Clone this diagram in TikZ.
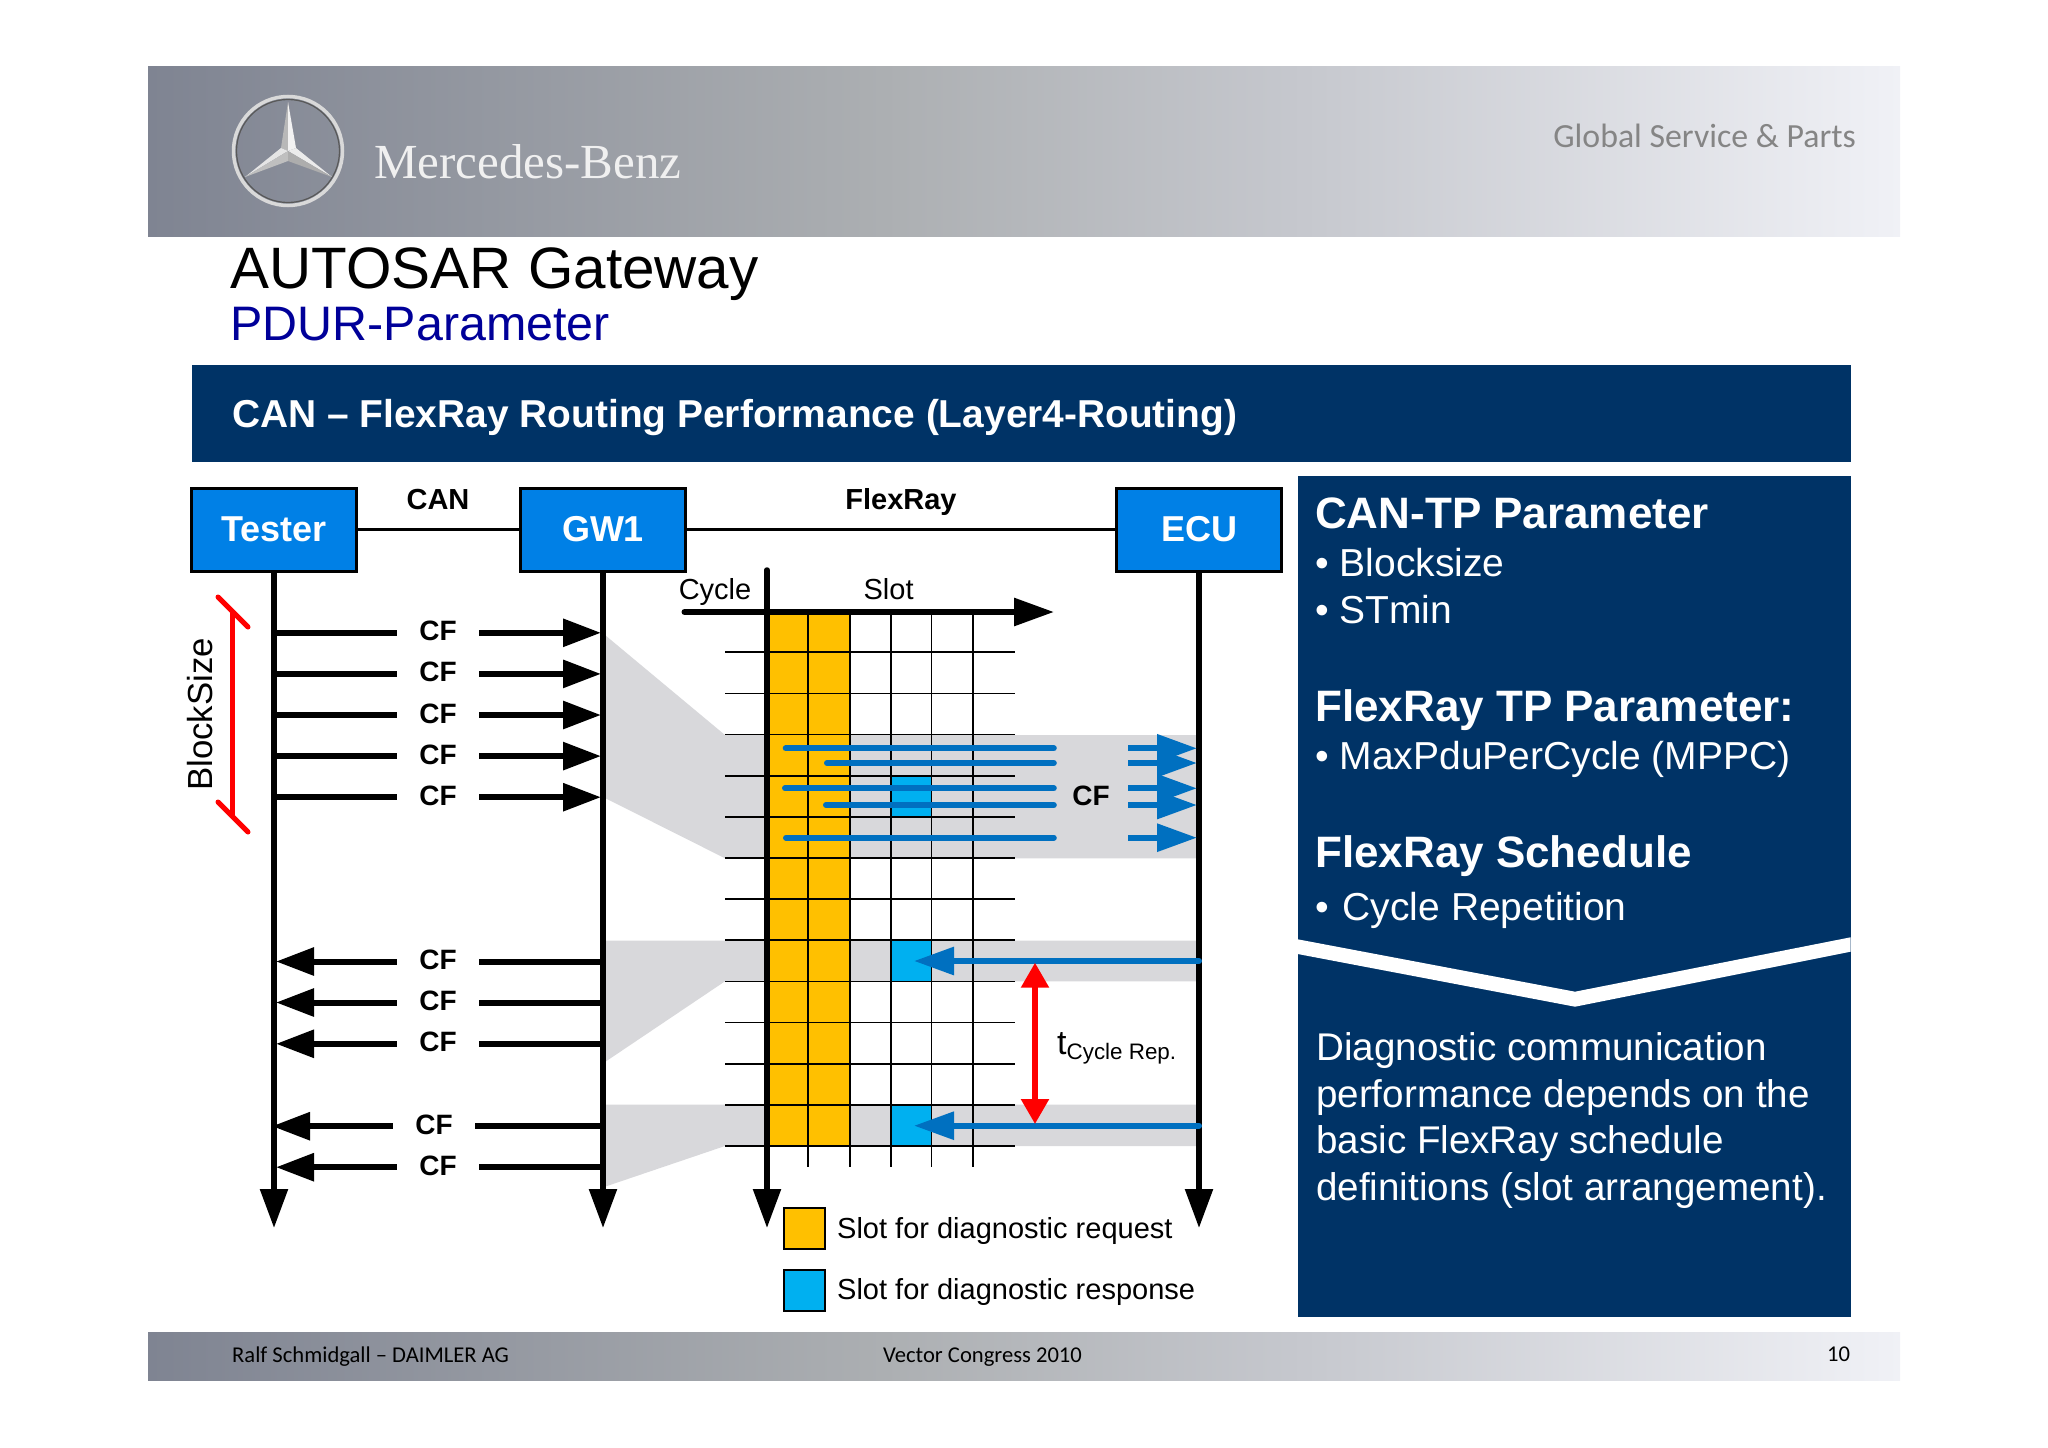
\documentclass[tikz,border=0pt]{standalone}
\usepackage{fontspec}
\setmainfont{Liberation Sans}
\newfontfamily\brandfont{Liberation Serif}
\newfontfamily\slimfont{Carlito}
\usetikzlibrary{arrows.meta}

\definecolor{bandleft}{RGB}{127,132,146}
\definecolor{bandmid}{RGB}{172,175,178}
\definecolor{bandlight}{RGB}{198,200,206}
\definecolor{bandright}{RGB}{240,241,246}
\definecolor{navy}{RGB}{0,51,102}
\definecolor{nodeblue}{RGB}{0,128,230}
\definecolor{slotgold}{RGB}{255,192,0}
\definecolor{slotcyan}{RGB}{0,176,240}
\definecolor{msgblue}{RGB}{0,112,192}
\definecolor{routegray}{RGB}{216,216,219}
\definecolor{titleblue}{RGB}{0,0,153}
\pgfdeclarehorizontalshading{bandshade}{100bp}{color(0bp)=(bandleft); color(25bp)=(bandleft); color(46bp)=(bandmid); color(58bp)=(bandlight); color(75bp)=(bandright); color(100bp)=(bandright)}

\newcommand{\pxfont}[1]{\fontsize{#1}{#1}\selectfont}

\tikzset{
	ecubox/.style={draw=black,fill=nodeblue,line width=3pt,minimum width=165pt,minimum height=83pt,inner sep=0pt,text=white,font=\pxfont{36}\bfseries},
	buslabel/.style={anchor=base,inner sep=0pt,font=\pxfont{29}\bfseries},
	cflabel/.style={minimum width=82pt,inner sep=0pt,text height=20pt,text depth=4pt,font=\pxfont{28}\bfseries},
	plain/.style={anchor=base west,inner sep=0pt},
	head/.style={anchor=base west,inner sep=0pt,text=white,font=\pxfont{44}\bfseries},
	item/.style={anchor=base west,inner sep=0pt,text=white,font=\pxfont{39}},
	lifeline/.style={line width=5.5pt,-{Triangle[length=39pt,width=27pt]}},
	msgline/.style={line width=6pt},
	msgtip/.style={-{Triangle[length=38pt,width=27pt]},shorten >=2pt},
	bluemsg/.style={line width=6pt,draw=msgblue},
	bluetip/.style={-{Triangle[length=40pt,width=27pt]}},
	gridline/.style={line width=1.8pt},
	redarrow/.style={line width=5.5pt,draw=red,{Triangle[length=25pt,width=27pt]}-{Triangle[length=25pt,width=27pt]}},
	legendbox/.style={draw=black,line width=2pt,minimum size=41pt,inner sep=0pt}
}

\begin{document}
\begin{tikzpicture}[x=1pt,y=-1pt]
	\useasboundingbox (0,0) rectangle (2048,1448);

	% header and footer bands
	\shade[shading=bandshade] (148,66) rectangle (1900,236);
	\shade[shading=bandshade] (148,1332) rectangle (1900,1380);

	% logo
	\draw[line width=3.5pt,draw=white!85!black] (288,151) circle (54.5);
	\draw[line width=1.2pt,draw=black!65] (288,151) circle (51.5);
	\fill[black!28] (288,102) -- (281,148) -- (288,151) -- cycle;
	\fill[white!95!black] (288,102) -- (296,148) -- (288,151) -- cycle;
	\fill[white!90!black] (245,177) -- (281,148) -- (288,151) -- cycle;
	\fill[black!25] (245,177) -- (288,161) -- (288,151) -- cycle;
	\fill[white!92!black] (332,177) -- (296,148) -- (288,151) -- cycle;
	\fill[black!32] (332,177) -- (288,161) -- (288,151) -- cycle;
	\node[plain,text=white!94!black,font=\brandfont\pxfont{49}] (brand) at (374,178) {Mercedes-Benz};
	\node[anchor=base east,inner sep=0pt,text=black!48,font=\slimfont\pxfont{33.8}] (division) at (1856,147) {Global Service \& Parts};

	% titles
	\node[plain,font=\pxfont{58.4}] (title) at (230.5,288) {AUTOSAR Gateway};
	\node[plain,text=titleblue,font=\pxfont{48.4}] (subtitle) at (230.5,340) {PDUR-Parameter};
	\fill[navy] (192,365) rectangle (1851,461.5);
	\node[plain,text=white,font=\pxfont{38.9}\bfseries] (banner) at (232,427.5) {CAN – FlexRay Routing Performance (Layer4-Routing)};

	% routed areas
	\fill[routegray] (605,635) -- (725,735) -- (1199,735) -- (1199,858.3) -- (725,858.3) -- (605,798) -- cycle;
	\fill[routegray] (605,940.7) -- (1199,940.7) -- (1199,981.3) -- (725,981.3) -- (605,1062) -- cycle;
	\fill[routegray] (605,1104.7) -- (1199,1104.7) -- (1199,1146) -- (725,1146) -- (605,1186.7) -- cycle;

	% schedule grid
	\fill[slotgold] (770,612) rectangle (849.6,1146);
	\fill[slotcyan] (890.7,776) rectangle (931.4,817);
	\fill[slotcyan] (890.7,940.7) rectangle (931.4,981.3);
	\fill[slotcyan] (890.7,1104.7) rectangle (931.4,1146);
	\foreach \y in {652.3,693.44,...,1147}
		\draw[gridline] (725.4,\y) -- (1014.6,\y);
	\foreach \x in {808,849.6,890.7,931.4,972.9}
		\draw[gridline] (\x,612) -- (\x,1166.7);

	% stations
	\node[ecubox] (tester) at (274,529.5) {Tester};
	\node[ecubox] (gw1) at (603,529.5) {GW1};
	\node[ecubox] (ecu) at (1199,529.5) {ECU};
	\draw[line width=3pt] (tester) -- (gw1);
	\draw[line width=3pt] (gw1) -- (ecu);
	\node[buslabel] (can) at (438,509.5) {CAN};
	\node[buslabel] (flexray) at (901,509.5) {FlexRay};
	\coordinate (lifeend) at (0,1228);
	\draw[lifeline] (tester.south) -- (tester |- lifeend);
	\draw[lifeline] (gw1.south) -- (gw1 |- lifeend);
	\draw[lifeline] (ecu.south) -- (ecu |- lifeend);

	% axes
	\coordinate (cycletop) at (767,570);
	\coordinate (slotstart) at (684.5,612);
	\coordinate (slotend) at (1054,612);
	\draw[lifeline,line cap=round] (cycletop) -- (cycletop |- lifeend);
	\draw[msgline,line cap=round,-{Triangle[length=40pt,width=27pt]}] (slotstart) -- (slotend);
	\node[anchor=base,inner sep=0pt,font=\pxfont{29}] (cycle) at (715,599) {Cycle};
	\node[anchor=base,inner sep=0pt,font=\pxfont{29}] (slot) at (888.6,599) {Slot};

	% frames on CAN
	\foreach \n/\y in {1/632.8,2/673.9,3/715,4/756.1,5/797.2}{
		\node[cflabel] (req\n) at (438,\y) {CF};
		\draw[msgline] (tester |- req\n) -- (req\n);
		\draw[msgline,msgtip] (req\n) -- (gw1 |- req\n);
	}
	\foreach \n/\x/\y/\s in {1/438/961.5/2,2/438/1002.5/2,3/438/1043.8/2,4/434/1126.2/-2,5/438/1167.2/2}{
		\node[cflabel] (res\n) at (\x,\y) {CF};
		\draw[msgline] (gw1 |- res\n) -- (res\n);
		\draw[msgline,msgtip,shorten >=\s pt] (res\n) -- (tester |- res\n);
	}

	% frames on FlexRay
	\node[cflabel,minimum width=74pt] (cfslot) at (1091,797) {CF};
	\foreach \n/\x/\y in {1/785.7/748.3,2/827/763,3/785/788.3,4/826/805,5/786/837.7}{
		\coordinate (start\n) at (\x,\y);
		\draw[bluemsg,line cap=round] (start\n) -- (cfslot.west |- start\n);
		\draw[bluemsg,bluetip,shorten >=2pt] (cfslot.east |- start\n) -- (ecu |- start\n);
	}
	\foreach \n/\y in {1/961,2/1125.7}{
		\coordinate (back\n) at (914,\y);
		\draw[bluemsg,line cap=round,bluetip] (ecu |- back\n) -- (back\n);
	}

	% repetition and block size
	\coordinate (reptop) at (1035,962.7);
	\coordinate (repbot) at (1035,1124);
	\draw[redarrow] (reptop) -- (repbot);
	\node[plain,font=\pxfont{34}] (trep) at (1057,1054) {t\raisebox{-5pt}{\pxfont{22.4}Cycle Rep.}};
	\node[rotate=90,inner sep=0pt,font=\pxfont{34.8}] (blocksize) at (200,714.5) {BlockSize};
	\coordinate (bstop) at (232.5,611);
	\coordinate (bsbot) at (232.5,817);
	\draw[line width=4.5pt,draw=red] (bstop) -- (bsbot);
	\draw[line width=5pt,draw=red,line cap=round] (218,597) -- (248,627);
	\draw[line width=5pt,draw=red,line cap=round] (218,802) -- (248,832);

	% legend
	\node[legendbox,fill=slotgold] (reqbox) at (804,1228) {};
	\node[legendbox,fill=slotcyan] (resbox) at (804,1290) {};
	\node[plain,font=\pxfont{29}] (reqtext) at (837,1238) {Slot for diagnostic request};
	\node[plain,font=\pxfont{29}] (restext) at (837,1299) {Slot for diagnostic response};

	% parameter panel
	\fill[navy] (1297.7,476) rectangle (1850.6,1316.7);
	\fill[white] (1297.7,939.3) -- (1575,991.7) -- (1850.6,937.3) -- (1850.6,951.7) -- (1575,1006.7) -- (1297.7,954) -- cycle;
	\node[head] (canhead) at (1315,528) {CAN-TP Parameter};
	\node[item] (itema) at (1315,576) {• Blocksize};
	\node[item] (itemb) at (1315,623.5) {• STmin};
	\node[head] (frhead) at (1315,721) {FlexRay TP Parameter:};
	\node[item] (itemc) at (1315,769.5) {• MaxPduPerCycle (MPPC)};
	\node[head] (schedhead) at (1315,867.5) {FlexRay Schedule};
	\node[item] (itemd) at (1315,920) {• \hspace{3pt}Cycle Repetition};
	\foreach \n/\y/\t in {1/1060/Diagnostic communication,2/1107/performance depends on the,3/1153/basic FlexRay schedule,4/1200/definitions (slot arrangement).}
		\node[item,font=\pxfont{38.6}] (note\n) at (1316,\y) {\t};

	% footer
	\node[plain,font=\slimfont\pxfont{22.6}] (speaker) at (232,1362.5) {Ralf Schmidgall – DAIMLER AG};
	\node[plain,font=\slimfont\pxfont{22.6}] (event) at (883,1362.5) {Vector Congress 2010};
	\node[plain,font=\slimfont\pxfont{22.6}] (page) at (1827,1361) {10};
\end{tikzpicture}
\end{document}
